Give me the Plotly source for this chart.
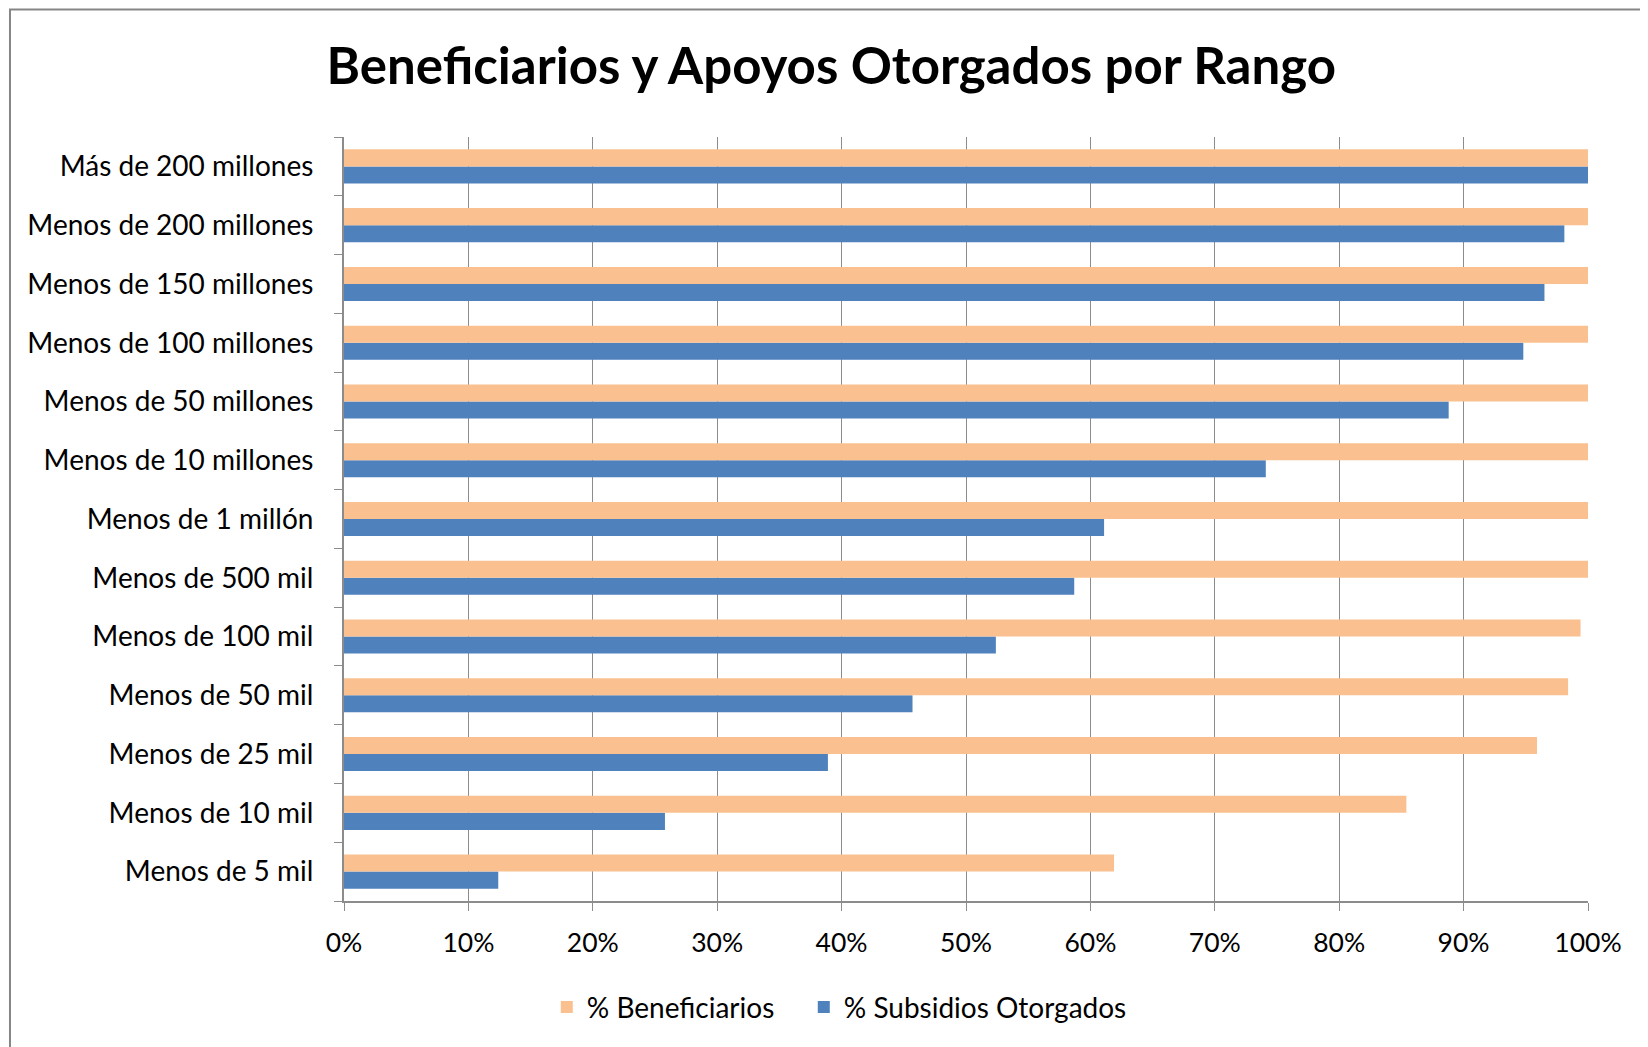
import plotly.graph_objects as go

# categorías (de abajo hacia arriba, como las dibuja el eje categórico)
rangos = ['Menos de 5 mil', 'Menos de 10 mil', 'Menos de 25 mil', 'Menos de 50 mil',
          'Menos de 100 mil', 'Menos de 500 mil', 'Menos de 1 millón',
          'Menos de 10 millones', 'Menos de 50 millones', 'Menos de 100 millones',
          'Menos de 150 millones', 'Menos de 200 millones', 'Más de 200 millones']

pct_beneficiarios = [0.619, 0.854, 0.959, 0.984, 0.994, 1.0, 1.0,
                     1.0, 1.0, 1.0, 1.0, 1.0, 1.0]
pct_subsidios = [0.124, 0.258, 0.389, 0.457, 0.524, 0.587, 0.611,
                 0.741, 0.888, 0.948, 0.965, 0.981, 1.0]

ticks_x = [0, 0.1, 0.2, 0.3, 0.4, 0.5, 0.6, 0.7, 0.8, 0.9, 1.0]

fuente = 'Lato, Carlito, Calibri, sans-serif'

fig = go.Figure()
# el primer trazo queda abajo dentro de cada grupo
fig.add_trace(go.Bar(
    y=rangos, x=pct_subsidios, orientation='h',
    name='% Subsidios Otorgados', marker_color='#4F81BD',
    marker_line_width=0, legend='legend2'
))
fig.add_trace(go.Bar(
    y=rangos, x=pct_beneficiarios, orientation='h',
    name='% Beneficiarios', marker_color='#FAC090',
    marker_line_width=0, legend='legend'
))

leyenda = dict(orientation='h', xanchor='left', y=-0.139, yanchor='middle',
               font=dict(size=28), itemwidth=30)

fig.update_layout(
    width=1640, height=1039,
    margin=dict(l=336, r=60, t=129, b=146),
    paper_bgcolor='white', plot_bgcolor='white',
    barmode='group', bargap=0.42, bargroupgap=0,
    font=dict(family=fuente, size=28, color='#000000'),
    title=dict(text='<b>Beneficiarios y Apoyos Otorgados por Rango</b>',
               x=0.502, xanchor='center', y=0.944, yanchor='middle',
               font=dict(family=fuente, size=51, color='#000000')),
    legend=dict(leyenda, x=0.163),
    legend2=dict(leyenda, x=0.3696),
    showlegend=True,
)

fig.update_xaxes(
    range=[0, 1], tickvals=ticks_x, tickformat='.0%',
    showgrid=True, gridcolor='#8C8C8C', gridwidth=1,
    showline=True, linecolor='#8C8C8C', linewidth=2,
    ticks='outside', ticklen=8, tickcolor='#8C8C8C',
    ticklabelstandoff=9, zeroline=False,
    tickfont=dict(size=26.5)
)
fig.update_yaxes(
    categoryorder='array', categoryarray=rangos,
    showline=True, linecolor='#8C8C8C', linewidth=2,
    ticks='outside', ticklen=8, tickcolor='#8C8C8C', tickson='boundaries',
    ticklabelstandoff=23, showgrid=False,
    tickfont=dict(size=28)
)

# marco gris del gráfico
fig.add_shape(type='rect', xref='paper', yref='paper',
              x0=-0.2685, x1=1.06, y0=-0.21, y1=1.167,
              line=dict(color='#868686', width=2), fillcolor='rgba(0,0,0,0)')

fig.write_html('out.html')
